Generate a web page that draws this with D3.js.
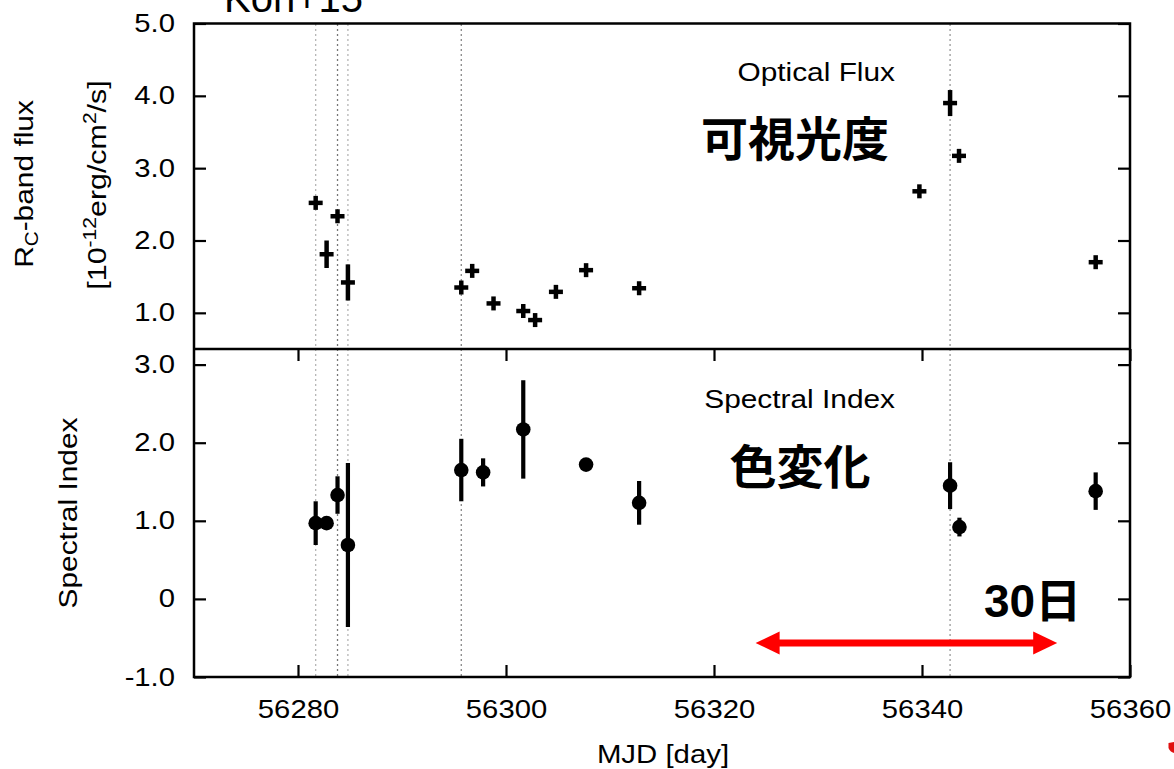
<!DOCTYPE html>
<html>
<head>
<meta charset="utf-8">
<title>Optical flux and spectral index</title>
<script src="https://d3js.org/d3.v7.min.js"></script>
<style>
  body { margin: 0; background: #fff; }
  svg { font-family: "Liberation Sans", Arial, sans-serif; }
  .cjk { font-family: "Liberation Sans", "Noto Sans CJK JP", sans-serif; font-weight: bold; }
</style>
</head>
<body>
<script>
var width = 1174;
var height = 769;
var sx = 1.17;   // the original lettering is a little wider than Liberation Sans

// Rc-band flux [1e-12 erg/cm2/s]
var fluxMjd = [56281.7, 56282.75, 56283.8, 56284.8, 56295.7, 56296.75, 56298.8, 56301.66,
               56302.8, 56304.8, 56307.7, 56312.8, 56339.75, 56342.7, 56343.56, 56356.7];
var fluxVal = [2.52, 1.81, 2.335, 1.42, 1.35, 1.58, 1.13, 1.025,
               0.90, 1.29, 1.59, 1.34, 2.68, 3.90, 3.17, 1.70];
var fluxErr = [0.06, 0.19, 0.05, 0.25, 0.05, 0.06, 0.04, 0.05,
               0.04, 0.04, 0.04, 0.04, 0.04, 0.18, 0.04, 0.04];

// spectral index
var idxMjd = [56281.7, 56282.75, 56283.8, 56284.8, 56295.7, 56297.8,
              56301.66, 56307.7, 56312.8, 56342.7, 56343.6, 56356.7];
var idxVal = [0.97, 0.97, 1.33, 0.69, 1.65, 1.62, 2.17, 1.72, 1.23, 1.45, 0.92, 1.38];
var idxErr = [0.28, 0.04, 0.24, 1.05, 0.40, 0.18, 0.63, 0.04, 0.28, 0.30, 0.12, 0.24];

// dotted epoch markers
var markMjd = [56281.7, 56283.8, 56284.8, 56295.7, 56342.7];
var markColor = ["#b5b5b5", "#777", "#b5b5b5", "#888", "#999"];

var xTicks = [56280, 56300, 56320, 56340, 56360];
var fluxTicks = [1, 2, 3, 4, 5];
var fluxTickLabels = ["1.0", "2.0", "3.0", "4.0", "5.0"];
var idxTicks = [-1, 0, 1, 2, 3];
var idxTickLabels = ["-1.0", "0", "1.0", "2.0", "3.0"];

var arrowSpan = [56324, 56353];   // "30 days"

var svg = d3.select("body").append("svg")
    .attr("width", width)
    .attr("height", height);

var x = d3.scaleLinear().domain([56270, 56360]).range([194, 1130]);
var yTop = d3.scaleLinear().domain([0.5, 5.0]).range([349, 23.5]);
var yBot = d3.scaleLinear().domain([-1, 3.2]).range([677, 349]);

// dotted vertical lines through both panels
svg.append("g").selectAll("line")
   .data(markMjd)
   .enter().append("line")
   .attr("x1", function(d){ return x(d); })
   .attr("x2", function(d){ return x(d); })
   .attr("y1", 24).attr("y2", 676)
   .attr("stroke", function(d, i){ return markColor[i]; })
   .attr("stroke-width", 1.3)
   .attr("stroke-dasharray", "2,3");

function styleAxis(g, labels) {
  g.attr("font-size", null).attr("font-family", null);
  g.select(".domain").remove();
  g.selectAll("line").attr("stroke", "#000").attr("stroke-width", 2.2);
  if (labels) {
    g.selectAll("text").attr("font-size", 25).attr("fill", "#000");
  }
}

// y axes, top panel
var gl1 = svg.append("g").attr("transform", "translate(194,0)")
   .call(d3.axisLeft(yTop).tickValues(fluxTicks)
        .tickFormat(function(d, i){ return fluxTickLabels[i]; })
        .tickSize(-12).tickPadding(19));
styleAxis(gl1, true);
gl1.selectAll("text").attr("x", -19 / sx).attr("transform", "scale(" + sx + ",1)");

var gr1 = svg.append("g").attr("transform", "translate(1130,0)")
   .call(d3.axisRight(yTop).tickValues(fluxTicks).tickFormat("").tickSize(-12));
styleAxis(gr1, false);

// y axes, bottom panel
var gl2 = svg.append("g").attr("transform", "translate(194,0)")
   .call(d3.axisLeft(yBot).tickValues(idxTicks)
        .tickFormat(function(d, i){ return idxTickLabels[i]; })
        .tickSize(-12).tickPadding(19));
styleAxis(gl2, true);
gl2.selectAll("text").attr("x", -19 / sx).attr("transform", "scale(" + sx + ",1)");

var gr2 = svg.append("g").attr("transform", "translate(1130,0)")
   .call(d3.axisRight(yBot).tickValues(idxTicks).tickFormat("").tickSize(-12));
styleAxis(gr2, false);

// x axes (bottom panel only)
var gb = svg.append("g").attr("transform", "translate(0,677)")
   .call(d3.axisBottom(x).tickValues(xTicks).tickFormat(d3.format("d"))
        .tickSize(-12).tickPadding(23));
styleAxis(gb, true);
gb.selectAll("text").attr("transform", "scale(" + sx + ",1)");

var gt = svg.append("g").attr("transform", "translate(0,349)")
   .call(d3.axisTop(x).tickValues(xTicks).tickFormat("").tickSize(-12));
styleAxis(gt, false);

// frame and panel divider
svg.append("rect")
   .attr("x", 194).attr("y", 23.5)
   .attr("width", 936).attr("height", 653.5)
   .attr("fill", "none").attr("stroke", "#000").attr("stroke-width", 2.5);
svg.append("line")
   .attr("x1", 194).attr("x2", 1130).attr("y1", 349).attr("y2", 349)
   .attr("stroke", "#000").attr("stroke-width", 2.5);

// optical flux: crosses with error bars
var fluxData = fluxMjd.map(function(m, i){ return {m: m, v: fluxVal[i], e: fluxErr[i]}; });
var fg = svg.append("g").attr("stroke", "#000").attr("stroke-width", 4.5);
fg.selectAll("line.h")
  .data(fluxData).enter().append("line").attr("class", "h")
  .attr("x1", function(d){ return x(d.m) - 7; })
  .attr("x2", function(d){ return x(d.m) + 7; })
  .attr("y1", function(d){ return yTop(d.v); })
  .attr("y2", function(d){ return yTop(d.v); });
fg.selectAll("line.v")
  .data(fluxData).enter().append("line").attr("class", "v")
  .attr("x1", function(d){ return x(d.m); })
  .attr("x2", function(d){ return x(d.m); })
  .attr("y1", function(d){ return Math.min(yTop(d.v + d.e), yTop(d.v) - 7); })
  .attr("y2", function(d){ return Math.max(yTop(d.v - d.e), yTop(d.v) + 7); });

// spectral index: dots with error bars
var idxData = idxMjd.map(function(m, i){ return {m: m, v: idxVal[i], e: idxErr[i]}; });
var ig = svg.append("g");
ig.selectAll("line")
  .data(idxData).enter().append("line")
  .attr("x1", function(d){ return x(d.m); })
  .attr("x2", function(d){ return x(d.m); })
  .attr("y1", function(d){ return yBot(d.v + d.e); })
  .attr("y2", function(d){ return yBot(d.v - d.e); })
  .attr("stroke", "#000").attr("stroke-width", 4.2);
ig.selectAll("circle")
  .data(idxData).enter().append("circle")
  .attr("cx", function(d){ return x(d.m); })
  .attr("cy", function(d){ return yBot(d.v); })
  .attr("r", 7.3)
  .attr("fill", "#000");

// plain text helper, stretched sideways around its anchor
function label(px, py, str, size, anchor, rot, k) {
  var g = svg.append("g").attr("transform", "translate(" + px + "," + py + ")" + (rot ? " rotate(" + rot + ")" : ""));
  return g.append("text")
    .attr("transform", "scale(" + (k || sx) + ",1)")
    .attr("text-anchor", anchor)
    .attr("font-size", size)
    .attr("fill", "#000")
    .text(str);
}

label(895, 81, "Optical Flux", 25.5, "end");
label(895, 408, "Spectral Index", 25.5, "end");
label(663, 763, "MJD [day]", 26, "middle", 0, 1.13);
label(77, 513, "Spectral Index", 26, "middle", -90, 1.15);

// Rc-band flux (rotated, with subscript)
var t1 = label(33, 184, "", 26, "middle", -90, 1.15);
t1.append("tspan").text("R");
t1.append("tspan").attr("font-size", 18).attr("dy", 5).text("C");
t1.append("tspan").attr("dy", -5).text("-band flux");

var t2 = label(106, 185, "", 26, "middle", -90, 1.17);
t2.append("tspan").text("[10");
t2.append("tspan").attr("font-size", 18).attr("dy", -10).text("-12");
t2.append("tspan").attr("dy", 10).text("erg/cm");
t2.append("tspan").attr("font-size", 18).attr("dy", -10).text("2");
t2.append("tspan").attr("dy", 10).text("/s]");

// cut-off header at the very top
svg.append("text").attr("x", 224).attr("y", 12)
   .attr("font-size", 40).attr("fill", "#000").text("Koh+15");

// Japanese annotations
svg.append("text").attr("class", "cjk")
   .attr("x", 795).attr("y", 139).attr("dominant-baseline", "central")
   .attr("text-anchor", "middle").attr("font-size", 47).text("可視光度");
svg.append("text").attr("class", "cjk")
   .attr("x", 800).attr("y", 467).attr("dominant-baseline", "central")
   .attr("text-anchor", "middle").attr("font-size", 47).text("色変化");
svg.append("text").attr("class", "cjk")
   .attr("x", 984).attr("y", 617)
   .attr("font-size", 46).text("30日");

// red double arrow spanning 30 days
var ay = 643, ax0 = x(arrowSpan[0]), ax1 = x(arrowSpan[1]);
svg.append("line")
   .attr("x1", ax0 + 20).attr("x2", ax1 - 20).attr("y1", ay).attr("y2", ay)
   .attr("stroke", "#ff0000").attr("stroke-width", 7);
svg.append("path")
   .attr("d", "M" + ax0 + "," + ay + "L" + (ax0 + 24) + "," + (ay - 11.5) + "L" + (ax0 + 24) + "," + (ay + 11.5) + "Z")
   .attr("fill", "#ff0000");
svg.append("path")
   .attr("d", "M" + ax1 + "," + ay + "L" + (ax1 - 24) + "," + (ay - 11.5) + "L" + (ax1 - 24) + "," + (ay + 11.5) + "Z")
   .attr("fill", "#ff0000");

// small red fragment at the lower right edge
svg.append("path")
   .attr("d", "M1168.5,743 L1174,742 L1174,753 Q1170,752 1168.5,748 Z")
   .attr("fill", "#e01010");
</script>
</body>
</html>
